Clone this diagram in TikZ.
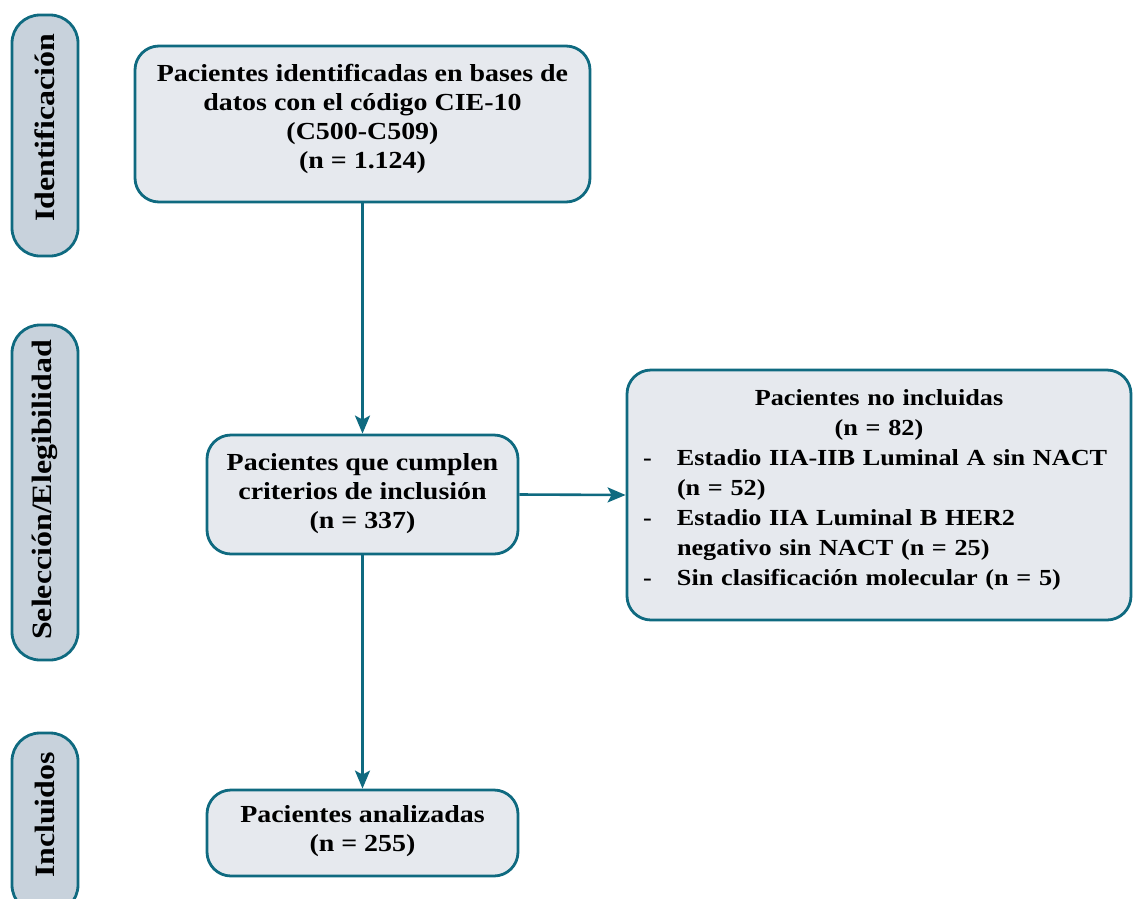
\documentclass[tikz,border=0pt]{standalone}
\usepackage{fontspec}
\setmainfont{Liberation Serif}[FakeStretch=1.14]
\usetikzlibrary{arrows.meta}
\definecolor{teal}{HTML}{0F6A80}
\definecolor{boxfill}{HTML}{E6E9EE}
\definecolor{sidefill}{HTML}{C8D2DC}
\begin{document}
\begin{tikzpicture}[x=1pt,y=-1pt,
  mainbox/.style={draw=teal, fill=boxfill, line width=2.8pt, rounded corners=24pt, align=center, font=\fontsize{24.5}{29}\selectfont\bfseries, inner sep=0pt},
  sidebox/.style={draw=teal, fill=sidefill, line width=2.8pt, rounded corners=28pt, minimum width=66pt, inner sep=0pt},
  sidetext/.style={rotate=90, font=\fontsize{28}{30}\selectfont\bfseries},
  conn/.style={draw=teal, line width=2.6pt, -{Stealth[length=18pt,width=15pt,inset=4pt]}}
]
\useasboundingbox (0,0) rectangle (1133,898);
\clip (0,0) rectangle (1133,898);
% side labels
\node[sidebox, minimum height=241pt] (s1) at (45,135.5) {};
\node[sidetext] (t1) at (45,128) {Identificación};
\node[sidebox, minimum height=335pt] (s2) at (45,492.5) {};
\node[sidetext] (t2) at (45,490) {Selección/Elegibilidad};
\node[sidebox, minimum height=180pt] (s3) at (45,823) {};
\node[sidetext] (t3) at (45,815) {Incluidos};
% main boxes
\node[mainbox, minimum width=455pt, minimum height=156pt] (b1) at (362.5,124) {Pacientes identificadas en bases de\\datos con el código CIE-10\\(C500-C509)\\(n = 1.124)\\[-13pt]};
\node[mainbox, minimum width=311pt, minimum height=119pt] (b2) at (362.5,494.5) {Pacientes que cumplen\\criterios de inclusión\\(n = 337)\\[-22pt]};
\node[mainbox, minimum width=311pt, minimum height=86pt] (b4) at (362.5,833) {Pacientes analizadas\\(n = 255)\\[-20pt]};
\node[mainbox, minimum width=504pt, minimum height=250pt, text width=472pt, align=left, font=\fontsize{23}{30}\selectfont\bfseries] (b3) at (879,495) {%
  {\centering Pacientes no incluidas\\(n = 82)\par}\vspace{4pt}%
  \renewcommand{\arraystretch}{1}%
  \begin{tabular}{@{}p{34pt}@{}l@{}}
  - & Estadio IIA-IIB Luminal A sin NACT\\
    & (n = 52)\\
  - & Estadio IIA Luminal B HER2\\
    & negativo sin NACT (n = 25)\\
  - & Sin clasificación molecular (n = 5)\\[6pt]
  \end{tabular}};
% connectors
\draw[conn] (b1.south) -- (b2.north);
\draw[conn] (b2.south) -- (b4.north);
\draw[conn] (b2.east) -- (b3.west);
\end{tikzpicture}
\end{document}
